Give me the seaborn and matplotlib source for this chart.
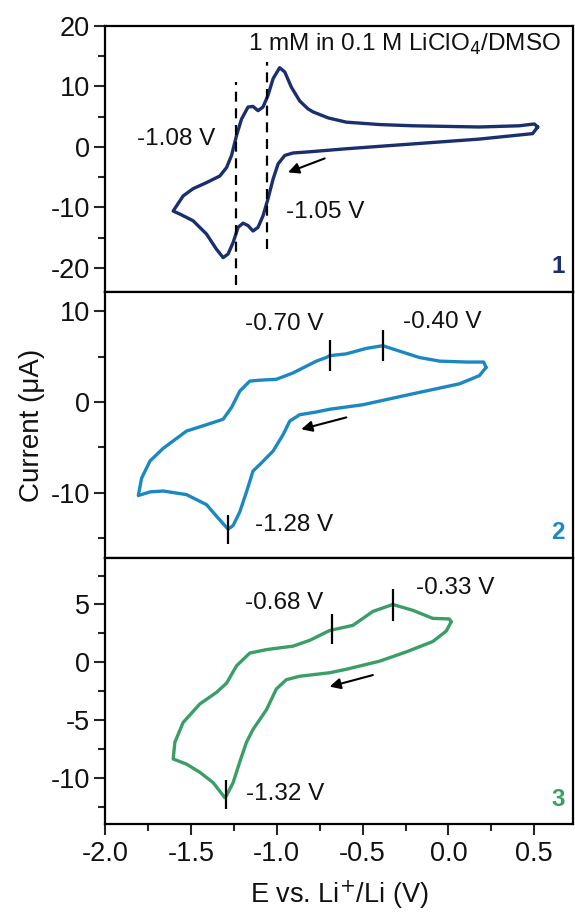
import numpy as np
import pandas as pd
import seaborn as sns
import matplotlib
matplotlib.use("Agg")
import matplotlib.pyplot as plt
from matplotlib.ticker import AutoMinorLocator, MultipleLocator

# ---------------- data ----------------
e1 = [0.52, 0.49, 0.18, -0.208, -0.595, -0.808, -0.905, -0.953, -0.992, -1.021, -1.051,
      -1.080, -1.109, -1.138, -1.167, -1.196, -1.225, -1.254, -1.283, -1.312, -1.351,
      -1.409, -1.487, -1.564, -1.603,
      -1.545, -1.487, -1.409, -1.331, -1.292, -1.263, -1.234, -1.205, -1.167, -1.138, -1.109,
      -1.080, -1.051, -1.021, -0.983, -0.953, -0.915, -0.866, -0.818, -0.789, -0.70, -0.595,
      -0.40, -0.208, 0.180, 0.413, 0.50, 0.52]
i1 = [3.3, 2.2, 1.3, 0.5, -0.3, -0.8, -1.0, -1.4, -2.8, -5.3, -8.6,
      -11.4, -13.3, -13.9, -13.0, -12.6, -13.3, -15.8, -17.7, -18.3, -16.9,
      -14.4, -12.2, -11.1, -10.6,
      -8.1, -6.9, -5.9, -4.8, -3.4, -1.4, 1.9, 4.6, 6.6, 6.7, 6.0,
      6.6, 8.5, 11.3, 13.1, 12.4, 9.9, 7.6, 6.3, 5.8, 4.8, 4.1,
      3.7, 3.5, 3.3, 3.5, 3.8, 3.3]

e2 = [0.219, 0.18, 0.064, -0.208, -0.498, -0.692, -0.769, -0.866, -0.924, -0.963, -1.021,
      -1.099, -1.138, -1.176, -1.215, -1.254, -1.283, -1.331, -1.409, -1.525, -1.661, -1.738,
      -1.806,
      -1.787, -1.738, -1.661, -1.525, -1.409, -1.312, -1.263, -1.215, -1.157, -1.099, -1.002,
      -0.905, -0.769, -0.711, -0.692, -0.595, -0.479, -0.382, -0.285, -0.169, -0.052, 0.103,
      0.205, 0.219]
i2 = [3.8, 2.9, 2.0, 0.9, -0.3, -0.8, -1.1, -1.4, -2.1, -3.6, -5.4,
      -6.9, -7.6, -9.9, -12.1, -13.6, -14.0, -13.0, -11.3, -10.2, -9.8, -9.9,
      -10.3,
      -8.4, -6.5, -5.1, -3.2, -2.5, -1.9, -0.6, 1.2, 2.3, 2.4, 2.5,
      3.2, 4.5, 4.9, 5.1, 5.3, 5.9, 6.2, 5.6, 4.9, 4.5, 4.4,
      4.4, 3.8]

e3 = [0.016, -0.013, -0.091, -0.246, -0.401, -0.595, -0.692, -0.866, -0.944, -1.002, -1.060,
      -1.138, -1.176, -1.215, -1.254, -1.292, -1.302, -1.370, -1.448, -1.525, -1.603,
      -1.593, -1.545, -1.448, -1.351, -1.292, -1.234, -1.157, -1.060, -0.905, -0.808, -0.692,
      -0.556, -0.440, -0.324, -0.208, -0.091, 0.005, 0.016]
i3 = [3.5, 2.7, 1.8, 0.9, 0.1, -0.6, -0.9, -1.2, -1.5, -2.3, -4.1,
      -5.8, -6.9, -8.6, -10.4, -11.5, -11.7, -10.4, -9.5, -8.8, -8.35,
      -6.9, -5.2, -3.6, -2.6, -1.8, -0.3, 0.8, 1.1, 1.4, 1.9, 2.75,
      3.2, 4.4, 5.0, 4.5, 3.8, 3.75, 3.5]

colors = ["#1B2F6E", "#1C88C2", "#3A9E66"]
panel_ids = ["1", "2", "3"]

# dashed guide lines (panel 1): x, ymin, ymax
dash_x = [-1.240, -1.056]
dash_ymin = [-22.9, -16.9]
dash_ymax = [10.8, 14.1]

# peak tick markers: x, ymin, ymax per panel 2 and 3
mark2_x = [-0.692, -0.382, -1.281]
mark2_ymin = [3.4, 4.5, -15.6]
mark2_ymax = [6.8, 7.9, -12.4]
mark3_x = [-0.678, -0.324, -1.298]
mark3_ymin = [1.6, 3.6, -12.7]
mark3_ymax = [4.2, 6.3, -10.2]

# annotation labels: text, x, y
labels1 = [("-1.08 V", -1.814, 1.3), ("-1.05 V", -0.944, -10.8)]
labels2 = [("-0.70 V", -1.186, 8.6), ("-0.40 V", -0.266, 8.8), ("-1.28 V", -1.128, -13.5)]
labels3 = [("-0.68 V", -1.186, 5.1), ("-0.33 V", -0.188, 6.4), ("-1.32 V", -1.176, -11.4)]

# scan-direction arrows: (tail x, tail y, head x, head y)
arrows = [(-0.721, -1.9, -0.934, -4.2), (-0.595, -1.7, -0.857, -3.0), (-0.440, -1.1, -0.692, -2.1)]

ylims = [(-24, 20), (-17.2, 12.1), (-14, 9)]
yticks = [[-20, -10, 0, 10, 20], [-10, 0, 10], [-10, -5, 0, 5]]
xticks = [-2.0, -1.5, -1.0, -0.5, 0.0, 0.5]

# ---------------- style ----------------
sns.set_theme(style="ticks")
plt.rcParams["font.family"] = ["Liberation Sans", "DejaVu Sans"]
plt.rcParams["axes.linewidth"] = 1.6
plt.rcParams["axes.unicode_minus"] = False

fig = plt.figure(figsize=(5.75, 9.15), dpi=100)
gs = fig.add_gridspec(3, 1, left=0.1826, right=0.997, top=0.9716, bottom=0.0991, hspace=0)
axes = [fig.add_subplot(gs[k]) for k in range(3)]

data = [(e1, i1), (e2, i2), (e3, i3)]
all_labels = [labels1, labels2, labels3]
FS_TICK = 19.5
FS_ANN = 17.5
TXT = "#111111"

for k, ax in enumerate(axes):
    df = pd.DataFrame({"E": data[k][0], "I": data[k][1]})
    sns.lineplot(data=df, x="E", y="I", sort=False, estimator=None, ax=ax,
                 color=colors[k], lw=2.4, solid_joinstyle="round", solid_capstyle="round")
    ax.set_xlim(-2.0, 0.727)
    ax.set_ylim(*ylims[k])
    ax.set_yticks(yticks[k])
    ax.set_yticklabels([str(v) for v in yticks[k]])
    ax.yaxis.set_minor_locator(AutoMinorLocator(2))
    ax.tick_params(axis="y", which="major", direction="out", length=8, width=1.5,
                   labelsize=FS_TICK, pad=3, labelcolor=TXT)
    ax.tick_params(axis="y", which="minor", direction="out", length=5, width=1.5)
    ax.set_xlabel("")
    ax.set_ylabel("")
    for s in ax.spines.values():
        s.set_linewidth(1.6)
        s.set_color("black")
    for txt, x, y in all_labels[k]:
        ax.text(x, y, txt, fontsize=FS_ANN, ha="left", va="center", color=TXT)
    tx, ty, hx, hy = arrows[k]
    ax.annotate("", xy=(hx, hy), xytext=(tx, ty),
                arrowprops=dict(arrowstyle="-|>", color="black", lw=1.5, mutation_scale=16,
                                shrinkA=0, shrinkB=0))
    ax.text(0.982, 0.095, panel_ids[k], transform=ax.transAxes, ha="right", va="center",
            fontsize=FS_ANN, fontweight="bold", color=colors[k])
    if k < 2:
        ax.tick_params(axis="x", which="both", bottom=False, labelbottom=False)
    else:
        ax.set_xticks(xticks)
        ax.set_xticklabels([f"{v:.1f}" for v in xticks])
        ax.xaxis.set_minor_locator(MultipleLocator(0.25))
        ax.tick_params(axis="x", which="major", direction="out", length=8, width=1.5,
                       labelsize=FS_TICK, pad=4, labelcolor=TXT)
        ax.tick_params(axis="x", which="minor", direction="out", length=5, width=1.5)

# panel extras
axes[0].vlines(dash_x, dash_ymin, dash_ymax, colors="black", linestyles=(0, (4.5, 3)), lw=1.6)
axes[0].text(-1.17, 16.9, r"1 mM in 0.1 M LiClO$_4$/DMSO", fontsize=17.5, ha="left",
             va="center", color=TXT)
axes[1].vlines(mark2_x, mark2_ymin, mark2_ymax, colors="black", lw=1.6)
axes[2].vlines(mark3_x, mark3_ymin, mark3_ymax, colors="black", lw=1.6)

axes[1].set_ylabel("Current (\u03bcA)", fontsize=20, labelpad=4, color=TXT)
axes[2].set_xlabel(r"E vs. Li$^{+}$/Li (V)", fontsize=19.5, labelpad=8, color=TXT)

fig.savefig("out.png", dpi=100)
